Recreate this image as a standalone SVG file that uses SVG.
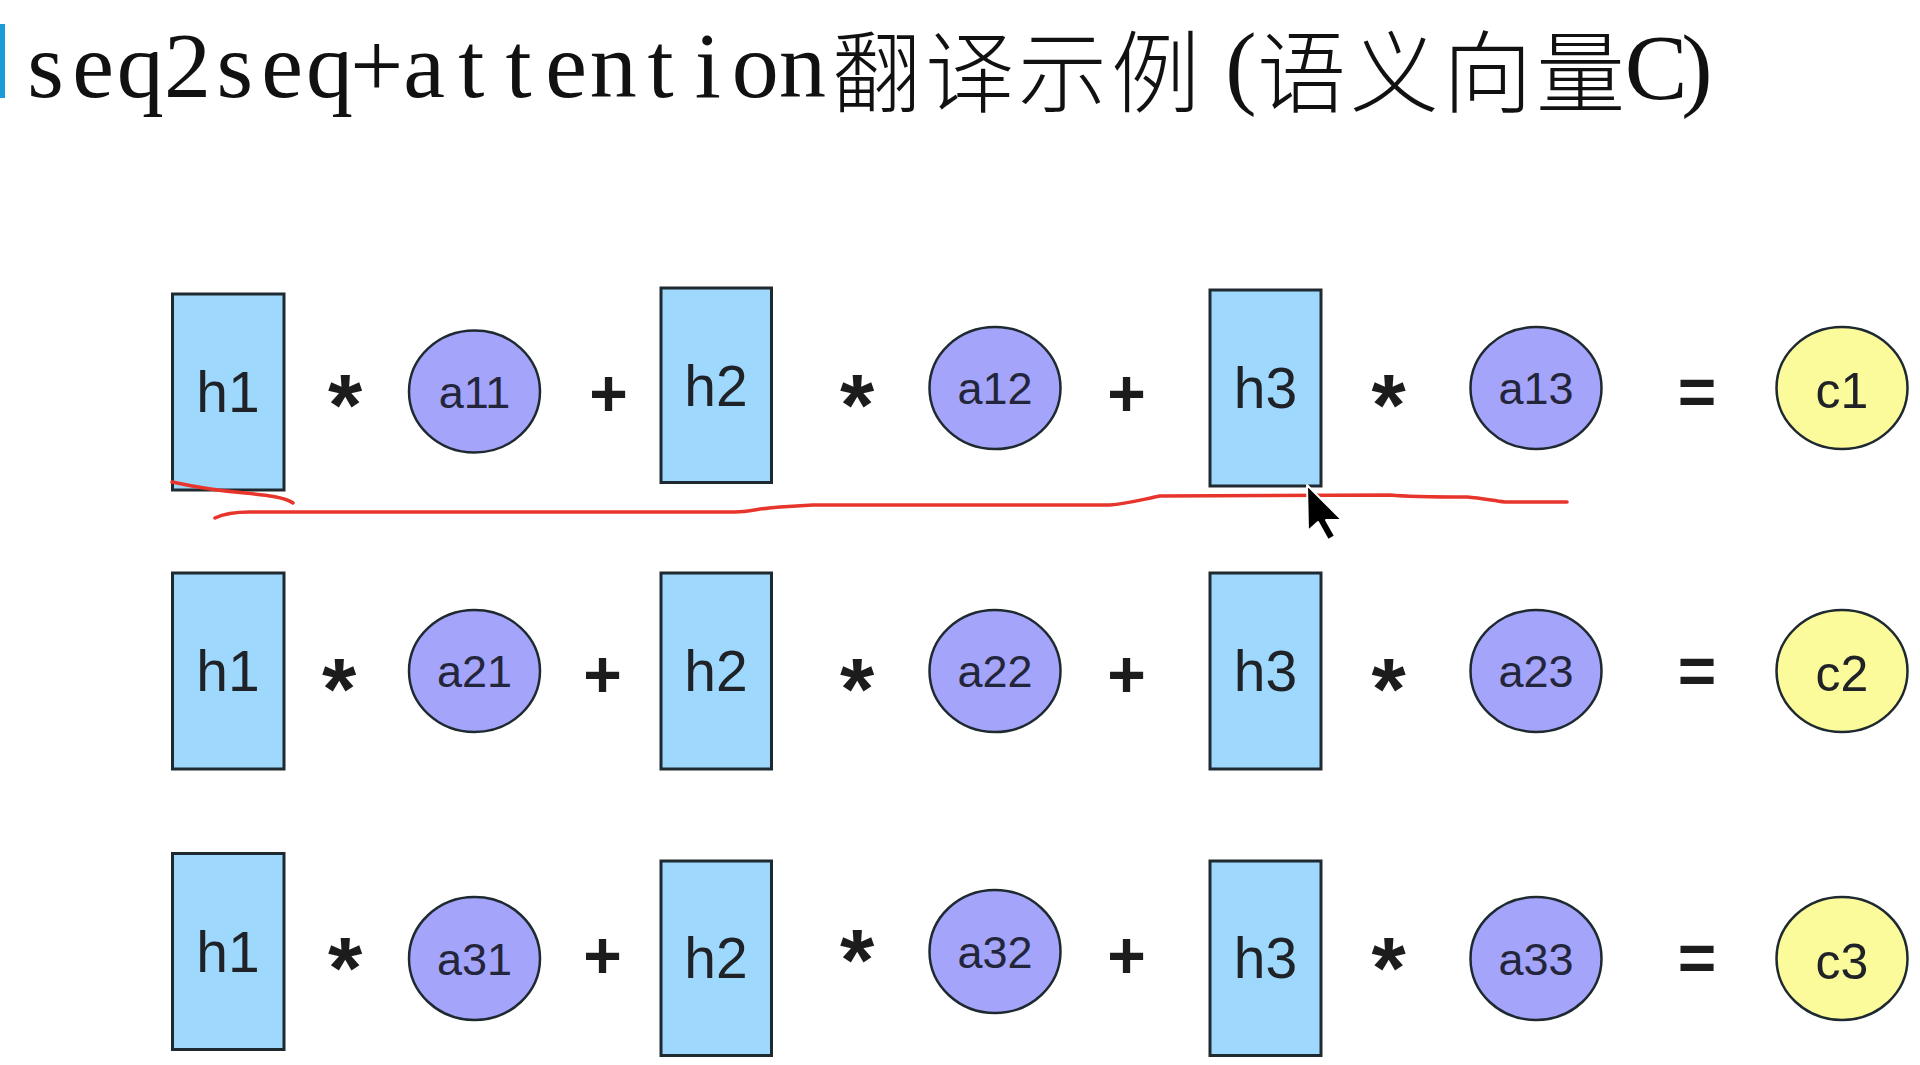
<svg xmlns="http://www.w3.org/2000/svg" width="1920" height="1065" viewBox="0 0 1920 1065">
<style>
.h{fill:#9fd8fd;stroke:#1f2a30;stroke-width:3}
.a{fill:#a4a4fb;stroke:#1f2a30;stroke-width:2.5}
.c{fill:#fbfb9c;stroke:#1f2a30;stroke-width:2.5}
.hl{font-family:"Liberation Sans",Arial,sans-serif;font-size:57px;fill:#1f2226;text-anchor:middle}
.al{font-family:"Liberation Sans",Arial,sans-serif;font-size:45px;fill:#23263a;text-anchor:middle}
.cl{font-family:"Liberation Sans",Arial,sans-serif;font-size:50px;fill:#1f2226;text-anchor:middle}
.op{font-family:"Liberation Sans",Arial,sans-serif;font-weight:bold;fill:#1c1c1c;text-anchor:middle}
.st{font-size:88px}
.pl{font-size:66px}
.eq{font-size:66px}
.tl{font-family:"Liberation Serif","Times New Roman",serif;font-size:94px;fill:#111;text-anchor:middle}
.tc{font-family:"Noto Sans CJK SC",sans-serif;font-size:89px;letter-spacing:4px;font-weight:300;fill:#111}
.red{fill:none;stroke:#e8352c;stroke-width:3.5;stroke-linecap:round;stroke-linejoin:round}
</style>
<rect x="0" y="0" width="1920" height="1065" fill="#ffffff"/>

<g id="title">
<rect x="0" y="24" width="5" height="74" fill="#1b9bd7"/>
<text class="tl" x="45.6 93 140.2 187.5 234.8 282.2 329.5 376.8 424 471.4 518.6 566 613.2 660.6 707.8 755.2 802.4" y="97">seq2seq+attention</text>
<text class="tc" x="832" y="105">翻译示例</text>
<text class="tl" x="1241" y="97">(</text>
<text class="tc" x="1257" y="105">语义向量</text>
<text class="tl" x="1656 1697" y="99">C)</text>
</g>

<!-- Row 1 -->
<g id="r1h1"><rect class="h" x="172.5" y="294" width="111.5" height="196"/><text class="hl" x="228" y="412">h1</text></g>
<g id="r1m1"><text class="op st" x="345" y="435">*</text></g>
<g id="r1a11"><ellipse class="a" cx="474.5" cy="391.5" rx="65.5" ry="61"/><text class="al" x="474.5" y="407.5">a11</text></g>
<g id="r1p1"><text class="op pl" x="608.6" y="416">+</text></g>
<g id="r1h2"><rect class="h" x="661" y="288" width="110.5" height="194.5"/><text class="hl" x="716" y="406">h2</text></g>
<g id="r1m2"><text class="op st" x="857" y="435">*</text></g>
<g id="r1a12"><ellipse class="a" cx="995" cy="388" rx="65.5" ry="61"/><text class="al" x="995" y="404">a12</text></g>
<g id="r1p2"><text class="op pl" x="1126.5" y="416">+</text></g>
<g id="r1h3"><rect class="h" x="1210" y="290" width="111" height="196"/><text class="hl" x="1265.5" y="408">h3</text></g>
<g id="r1m3"><text class="op st" x="1388.5" y="435">*</text></g>
<g id="r1a13"><ellipse class="a" cx="1536" cy="388" rx="65.5" ry="61"/><text class="al" x="1536" y="404">a13</text></g>
<g id="r1eq"><text class="op eq" x="1697" y="415">=</text></g>
<g id="c1"><ellipse class="c" cx="1842" cy="388" rx="65.5" ry="61"/><text class="cl" x="1842" y="408">c1</text></g>

<!-- Row 2 -->
<g id="r2h1"><rect class="h" x="172.5" y="573" width="111.5" height="196"/><text class="hl" x="228" y="691">h1</text></g>
<g id="r2m1"><text class="op st" x="339" y="719">*</text></g>
<g id="r2a21"><ellipse class="a" cx="474.5" cy="671" rx="65.5" ry="61"/><text class="al" x="474.5" y="687">a21</text></g>
<g id="r2p1"><text class="op pl" x="602.5" y="697">+</text></g>
<g id="r2h2"><rect class="h" x="661" y="573" width="110.5" height="196"/><text class="hl" x="716" y="691">h2</text></g>
<g id="r2m2"><text class="op st" x="857" y="719">*</text></g>
<g id="r2a22"><ellipse class="a" cx="995" cy="671" rx="65.5" ry="61"/><text class="al" x="995" y="687">a22</text></g>
<g id="r2p2"><text class="op pl" x="1126.5" y="697">+</text></g>
<g id="r2h3"><rect class="h" x="1210" y="573" width="111" height="196"/><text class="hl" x="1265.5" y="691">h3</text></g>
<g id="r2m3"><text class="op st" x="1388.5" y="719">*</text></g>
<g id="r2a23"><ellipse class="a" cx="1536" cy="671" rx="65.5" ry="61"/><text class="al" x="1536" y="687">a23</text></g>
<g id="r2eq"><text class="op eq" x="1697" y="694">=</text></g>
<g id="c2"><ellipse class="c" cx="1842" cy="671" rx="65.5" ry="61"/><text class="cl" x="1842" y="691">c2</text></g>

<!-- Row 3 -->
<g id="r3h1"><rect class="h" x="172.5" y="853.5" width="111.5" height="196"/><text class="hl" x="228" y="971.5">h1</text></g>
<g id="r3m1"><text class="op st" x="345" y="998">*</text></g>
<g id="r3a31"><ellipse class="a" cx="474.5" cy="958.5" rx="65.5" ry="61.5"/><text class="al" x="474.5" y="974.5">a31</text></g>
<g id="r3p1"><text class="op pl" x="602.5" y="978">+</text></g>
<g id="r3h2"><rect class="h" x="661" y="861" width="110.5" height="194.5"/><text class="hl" x="716" y="978">h2</text></g>
<g id="r3m2"><text class="op st" x="857" y="989.5">*</text></g>
<g id="r3a32"><ellipse class="a" cx="995" cy="951.5" rx="65.5" ry="61.5"/><text class="al" x="995" y="967.5">a32</text></g>
<g id="r3p2"><text class="op pl" x="1126.5" y="978">+</text></g>
<g id="r3h3"><rect class="h" x="1210" y="861" width="111" height="194.5"/><text class="hl" x="1265.5" y="978">h3</text></g>
<g id="r3m3"><text class="op st" x="1388.5" y="998">*</text></g>
<g id="r3a33"><ellipse class="a" cx="1536" cy="958.5" rx="65.5" ry="61.5"/><text class="al" x="1536" y="974.5">a33</text></g>
<g id="r3eq"><text class="op eq" x="1697" y="981">=</text></g>
<g id="c3"><ellipse class="c" cx="1842" cy="958.5" rx="65.5" ry="61.5"/><text class="cl" x="1842" y="978.5">c3</text></g>

<g id="connectors">
<path class="red" d="M172,482 C200,488 220,491 245,493 C265,495 285,497 293,503"/>
<path class="red" d="M215,518 C225,513 235,512 250,512 L735,512 C750,512 760,508 780,507 L813,505 L1110,505 C1125,504 1140,500 1160,496 L1390,495 C1400,496 1430,497 1467,497 C1480,498 1490,500 1505,502 L1567,502"/>
</g>

<g id="cursor">
<polygon points="1307,485 1308,531 1318,522 1328,540 1335,536 1326,520 1342,520" fill="#000" stroke="#fff" stroke-width="2" stroke-linejoin="round"/>
</g>
</svg>
